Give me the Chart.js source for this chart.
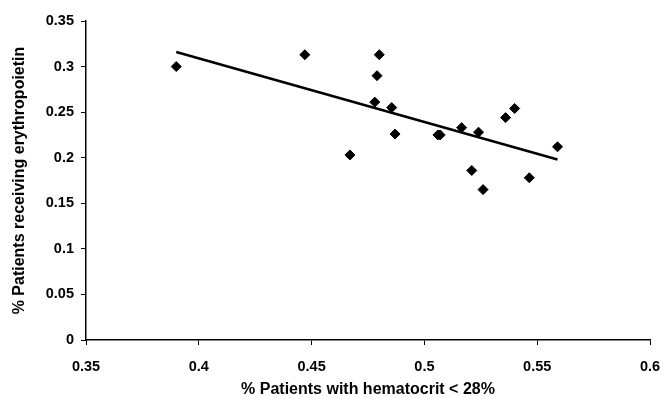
<!DOCTYPE html>
<html>
<head>
<meta charset="utf-8">
<script src="https://cdn.jsdelivr.net/npm/chart.js@4/dist/chart.umd.min.js"></script>
<style>
  body { margin: 0; background: #fff; }
</style>
</head>
<body>
<canvas id="chart" width="663" height="399"></canvas>
<script>
// values
const hematocritShare = [0.390, 0.447, 0.467, 0.478, 0.479, 0.480, 0.4855, 0.487, 0.506, 0.507, 0.5165, 0.521, 0.524, 0.526, 0.536, 0.540, 0.5465, 0.559];
const epoShare        = [0.300, 0.313, 0.203, 0.261, 0.290, 0.313, 0.255, 0.226, 0.225, 0.225, 0.233, 0.186, 0.228, 0.165, 0.244, 0.254, 0.178, 0.212];

// fitted trend line end points
const trendX = [0.390, 0.559];
const trendY = [0.316, 0.198];

const xTicks = [0.35, 0.4, 0.45, 0.5, 0.55, 0.6];
const yTicks = [0, 0.05, 0.1, 0.15, 0.2, 0.25, 0.3, 0.35];

const tickFont = { family: "'Liberation Sans', Arial, sans-serif", size: 14.5, weight: 'bold' };
const titleFont = { family: "'Liberation Sans', Arial, sans-serif", size: 16, weight: 'bold' };

function fixedTicks(values) {
    return function(scale) {
        scale.ticks = values.map(v => ({ value: v }));
    };
}

new Chart(document.getElementById("chart").getContext("2d"), {
    type: 'scatter',
    data: {
        datasets: [{
            label: 'Regions',
            data: hematocritShare.map((x, i) => ({ x: x, y: epoShare[i] })),
            pointStyle: 'rectRot',
            pointRadius: 5,
            backgroundColor: '#000',
            borderColor: '#000',
            borderWidth: 1
        }, {
            label: 'Trend',
            type: 'line',
            data: trendX.map((x, i) => ({ x: x, y: trendY[i] })),
            borderColor: '#000',
            borderWidth: 2.5,
            pointRadius: 0,
            fill: false
        }]
    },
    options: {
        responsive: false,
        animation: false,
        layout: { padding: { top: 21, right: 0, left: 0, bottom: 0 } },
        plugins: {
            legend: { display: false },
            tooltip: { enabled: false }
        },
        scales: {
            x: {
                type: 'linear',
                min: 0.35,
                max: 0.6,
                afterBuildTicks: fixedTicks(xTicks),
                afterFit: function(scale) {
                    scale.height = 59;
                    scale.paddingLeft = 0;
                    scale.paddingRight = 13; // room for the "0.6" label
                },
                border: { color: '#000', width: 1.5 },
                grid: { drawOnChartArea: false, color: '#000', tickLength: 5 },
                ticks: { color: '#000', font: tickFont, padding: 13, callback: v => String(v) },
                title: {
                    display: true,
                    text: '% Patients with hematocrit < 28%',
                    color: '#000',
                    font: titleFont,
                    padding: { top: 0, bottom: 0 }
                }
            },
            y: {
                min: 0,
                max: 0.35,
                afterBuildTicks: fixedTicks(yTicks),
                afterFit: function(scale) { scale.width = 86; },
                border: { color: '#000', width: 1.5 },
                grid: { drawOnChartArea: false, color: '#000', tickLength: 5 },
                ticks: { color: '#000', font: tickFont, padding: 7, callback: v => String(v) },
                title: {
                    display: true,
                    text: '% Patients receiving erythropoietin',
                    color: '#000',
                    font: titleFont,
                    padding: { top: 10, bottom: 0 }
                }
            }
        }
    }
});
</script>
</body>
</html>
